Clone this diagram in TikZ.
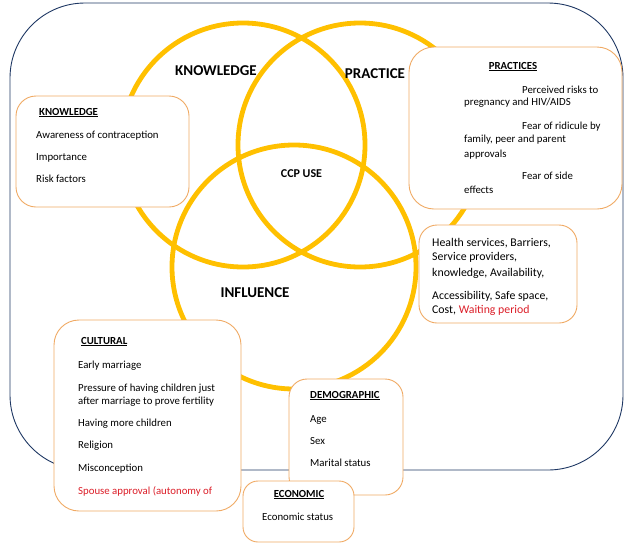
\documentclass[tikz,border=0pt]{standalone}
\usepackage{fontspec}
\setmainfont{Carlito}
\definecolor{navy}{RGB}{31,56,100}
\definecolor{gold}{RGB}{255,192,0}
\definecolor{sand}{RGB}{240,170,100}
\definecolor{redtxt}{RGB}{220,30,40}
\begin{document}
\begin{tikzpicture}[x=1pt,y=-1pt,
  outerbox/.style={draw=navy,line width=0.9pt,rounded corners=75pt},
  circ/.style={draw=gold,line width=4.8pt},
  box/.style={draw=sand,line width=0.9pt,fill=white,inner sep=0pt},
  big/.style={font=\fontsize{15}{16}\selectfont\bfseries,inner sep=0pt},
  txt/.style={font=\fontsize{10.8}{12}\selectfont,inner sep=0pt,anchor=base west},
  htxt/.style={font=\fontsize{11.8}{13}\selectfont,inner sep=0pt,anchor=base west},
  head/.style={font=\fontsize{10.8}{12}\selectfont\bfseries,inner sep=0pt,anchor=base west}]
\useasboundingbox (0,0) rectangle (639,549);
\draw[outerbox] (10,3) rectangle (623,470);
% circles
\draw[circ] (243,145) circle[radius=122pt];
\draw[circ] (360,145) circle[radius=122pt];
\draw[circ] (294,267) circle[radius=122pt];
% big labels
\node[big] (lk) at (216,71) {KNOWLEDGE};
\node[big] (lp) at (375,74) {PRACTICE};
\node[big] (li) at (255,293) {INFLUENCE};
\node[font=\fontsize{12}{13}\selectfont\bfseries,inner sep=0pt] (ccp) at (301.5,174) {CCP USE};
% knowledge box
\node[box,rounded corners=20pt,minimum width=173pt,minimum height=111pt] (kbox) at (102.5,151.5) {};
\node[head] (kh) at (39,115) {\underline{KNOWLEDGE}};
\node[txt] (k1) at (36,138) {Awareness of contraception};
\node[txt] (k2) at (36,160) {Importance};
\node[txt] (k3) at (36,182) {Risk factors};
% practices box
\node[box,rounded corners=25pt,minimum width=213pt,minimum height=162pt] (pbox) at (515.5,128) {};
\node[head,anchor=base] (ph) at (513,69) {\underline{PRACTICES}};
\node[txt] (p1) at (522,93) {Perceived risks to};
\node[txt] (p2) at (464,105) {pregnancy and HIV/AIDS};
\node[txt] (p3) at (522,129) {Fear of ridicule by};
\node[txt] (p4) at (464,142) {family, peer and parent};
\node[txt] (p5) at (464,157) {approvals};
\node[txt] (p6) at (522,179) {Fear of side};
\node[txt] (p7) at (464,193) {effects};
% health box
\node[box,rounded corners=18pt,minimum width=158pt,minimum height=98pt] (hbox) at (498,274) {};
\node[htxt] (h1) at (432,246) {Health services, Barriers,};
\node[htxt] (h2) at (432,260) {Service providers,};
\node[htxt] (h3) at (432,276) {knowledge, Availability,};
\node[htxt] (h4) at (432,299) {Accessibility, Safe space,};
\node[htxt] (h5) at (432,313) {Cost, \textcolor{redtxt}{Waiting period}};
% cultural box
\node[box,rounded corners=25pt,minimum width=187pt,minimum height=191pt] (cbox) at (147.5,415.5) {};
\node[head] (ch) at (81,344) {\underline{CULTURAL}};
\node[txt] (c1) at (78,368) {Early marriage};
\node[txt] (c2) at (78,391) {Pressure of having children just};
\node[txt] (c3) at (78,404) {after marriage to prove fertility};
\node[txt] (c4) at (78,426) {Having more children};
\node[txt] (c5) at (78,448) {Religion};
\node[txt] (c6) at (78,471) {Misconception};
\node[txt,text=redtxt] (c7) at (78,494) {Spouse approval (autonomy of};
% demographic box
\node[box,rounded corners=18pt,minimum width=114pt,minimum height=116pt] (dbox) at (346,437) {};
\node[head] (dh) at (310,398) {\underline{DEMOGRAPHIC}};
\node[txt] (d1) at (310,422) {Age};
\node[txt] (d2) at (310,444) {Sex};
\node[txt] (d3) at (310,466) {Marital status};
% economic box
\node[box,rounded corners=15pt,minimum width=111pt,minimum height=61pt] (ebox) at (298.5,511.5) {};
\node[head,anchor=base] (eh) at (299,497) {\underline{ECONOMIC}};
\node[txt] (e1) at (262,520) {Economic status};
\end{tikzpicture}
\end{document}
